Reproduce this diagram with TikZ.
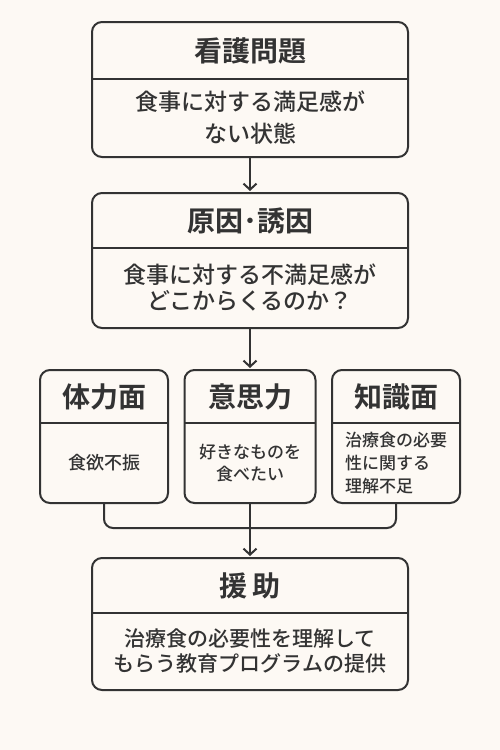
\documentclass[tikz,border=0pt]{standalone}
\usepackage{fontspec}
\newfontfamily\jp{Noto Sans CJK JP Medium}
\newfontfamily\jphead{Noto Sans CJK JP Bold}
\usetikzlibrary{arrows.meta,positioning,backgrounds}
\definecolor{PaperBg}{HTML}{FDF9F4}
\definecolor{CardBg}{HTML}{FFFCF8}
\definecolor{PeachLight}{HTML}{FCEBD8}
\definecolor{PeachDark}{HTML}{F9D5AE}
\definecolor{SkyLight}{HTML}{DCEBF1}
\definecolor{InkGray}{HTML}{333333}

\begin{document}
\begin{tikzpicture}[x=1pt, y=-1pt,
    hd/.style={anchor=north, inner sep=0pt, outer sep=0pt, text=InkGray,
               font=\jphead\fontsize{28}{32}\selectfont},
    wide/.style={minimum width=316pt},
    bd/.style={inner sep=0pt, outer sep=0pt, text=InkGray, align=center},
    frame/.style={draw=InkGray, line width=2pt, rounded corners=10pt},
    arr/.style={-{Straight Barb[length=6pt,width=13pt]}, draw=InkGray,
                line width=2pt, shorten >=2pt}
  ]
  \fill[PaperBg] (0,0) rectangle (500,750);
  \useasboundingbox (0,0) rectangle (500,750);
  % problem and cause
  \node[hd, wide, minimum height=57pt] (p1h) at (250,22) {看護問題};
  \node[bd, wide, minimum height=78pt, below=0pt of p1h,
        font=\jp\fontsize{23}{32}\selectfont] (p1b)
        {食事に対する満足感が\\ない状態};
  \node[hd, wide, minimum height=55pt] (p2h) at (250,193) {原因･誘因};
  \node[bd, wide, minimum height=80pt, below=0pt of p2h,
        font=\jp\fontsize{23}{26}\selectfont] (p2b)
        {食事に対する不満足感が\\どこからくるのか？};
  % three factors
  \node[hd, minimum width=128pt, minimum height=53pt] (fh) at (104,370) {体力面};
  \node[bd, minimum width=128pt, minimum height=80pt, below=0pt of fh,
        font=\jp\fontsize{18}{22}\selectfont] (fb) {食欲不振};
  \node[hd, minimum width=131pt, minimum height=53pt] (wh) at (250,370) {意思力};
  \node[bd, minimum width=131pt, minimum height=80pt, below=0pt of wh,
        font=\jp\fontsize{17}{22}\selectfont] (wb) {好きなものを\\食べたい};
  \node[hd, minimum width=128pt, minimum height=53pt] (kh) at (396,370) {知識面};
  \node[bd, minimum width=128pt, minimum height=80pt, below=0pt of kh,
        align=left, font=\jp\fontsize{17}{23}\selectfont] (kb)
        {治療食の必要\\性に関する\\理解不足};
  % support
  \node[hd, wide, minimum height=55pt] (p4h) at (250,558) {援\,助};
  \node[bd, wide, minimum height=77pt, below=0pt of p4h,
        font=\jp\fontsize{21}{25}\selectfont] (p4b)
        {治療食の必要性を理解して\\もらう教育プログラムの提供};

  \begin{scope}[on background layer]
    \foreach \h/\b/\c in {p1h/p1b/PeachLight, p2h/p2b/PeachDark,
                          fh/fb/PeachLight, wh/wb/PeachDark,
                          kh/kb/SkyLight, p4h/p4b/SkyLight}{
      \fill[CardBg, rounded corners=10pt] (\h.north west) rectangle (\b.south east -| \h.east);
      \fill[\c] (\h.south west) [rounded corners=10pt] -- (\h.north west)
        -- (\h.north east) [sharp corners] -- (\h.south east) -- cycle;
    }
  \end{scope}
  \foreach \h/\b in {p1h/p1b, p2h/p2b, fh/fb, wh/wb, kh/kb, p4h/p4b}{
    \draw[InkGray, line width=2pt] (\h.south west) -- (\h.south east);
    \draw[frame] (\h.north west) rectangle (\h.east |- \b.south);
  }

  \draw[arr] (p1b.south) -- (p2h.north);
  \draw[arr] (p2b.south) -- (wh.north);
  \draw[InkGray, line width=2pt, rounded corners=9pt]
    (fb.south) -- ++(0,25) -| (kb.south);
  \draw[arr] (wb.south) -- (p4h.north);
\end{tikzpicture}
\end{document}
